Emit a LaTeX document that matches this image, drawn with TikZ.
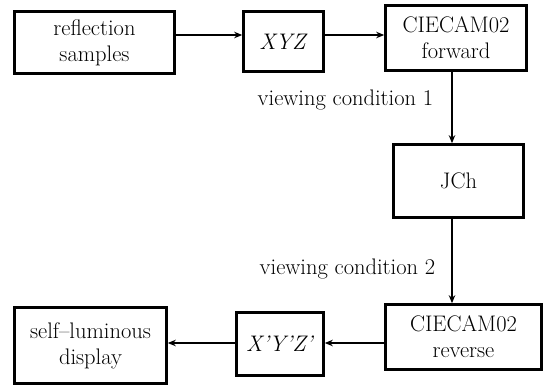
\documentclass[tikz,border=0pt]{standalone}
\usetikzlibrary{arrows.meta}
\begin{document}
\begin{tikzpicture}[x=1pt,y=-1pt,
  box/.style={draw,line width=2.6pt,inner sep=0pt,align=center,font=\fontsize{22.5}{26}\selectfont},
  conn/.style={line width=1.1pt,-{Stealth[length=8pt,width=6.5pt,inset=2.5pt]}},
  lbl/.style={inner sep=0pt,font=\fontsize{22.5}{26}\selectfont}]
\useasboundingbox (0,0) rectangle (552,386);
\node[box,minimum width=160pt,minimum height=62pt] (A) at (94.5,42.5) {reflection\\samples};
\node[box,minimum width=80pt,minimum height=60pt] (B) at (283.5,41.5) {\textit{XYZ}};
\node[box,minimum width=141pt,minimum height=65pt] (C) at (456,38) {CIECAM02\\forward};
\node[box,minimum width=130pt,minimum height=73pt] (D) at (458.5,181) {JCh};
\node[box,minimum width=156pt,minimum height=65pt] (E) at (463.5,337) {CIECAM02\\reverse};
\node[box,minimum width=87pt,minimum height=63pt] (F) at (280,344) {\textit{X'Y'Z'}};
\node[box,minimum width=152pt,minimum height=76pt] (G) at (90.5,345.5) {self--luminous\\display};
\coordinate (col) at (452,0);
\coordinate (row1) at (0,35);
\coordinate (row2) at (0,343);
\draw[conn] (A.east |- row1) -- (B.west |- row1);
\draw[conn] (B.east |- row1) -- (C.west |- row1);
\draw[conn] (C.south -| col) -- (D.north -| col);
\draw[conn] (D.south -| col) -- (E.north -| col);
\draw[conn] (E.west |- row2) -- (F.east |- row2);
\draw[conn] (F.west |- row2) -- (G.east |- row2);
\node[lbl] (L1) at (345.5,100) {viewing condition 1};
\node[lbl] (L2) at (347.5,269) {viewing condition 2};
\end{tikzpicture}
\end{document}
